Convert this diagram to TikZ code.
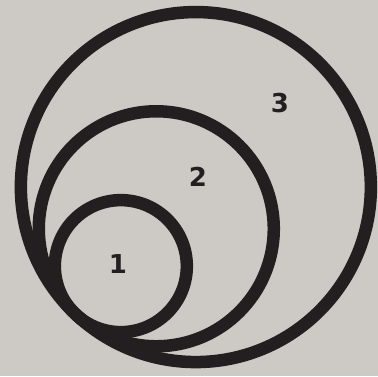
\documentclass[tikz,border=0pt]{standalone}
\usepackage{fontspec}
\setmainfont{DejaVu Sans}
\usepackage{xcolor}
\usepackage{tikz}
\usetikzlibrary{calc}
\definecolor{paper}{RGB}{205,201,197}
\definecolor{ink}{RGB}{35,31,32}

\begin{document}
\begin{tikzpicture}[x=1pt, y=1pt, every node/.style={font=\fontsize{26}{26}\selectfont\bfseries, text=ink}]

\fill[paper] (0,0) rectangle (378,376);
\useasboundingbox (0,0) rectangle (378,376);

% common touching point, lower left
\coordinate (touch) at (75.4,62);

\foreach \r in {175,117.5,66} {
  \draw[ink, line width=12.5pt] ($(touch)+(46.5:\r)$) circle[radius=\r pt];
}

\node (one) at (118,112) {1};
\node (two) at (198,199) {2};
\node (three) at (280,273) {3};

\end{tikzpicture}
\end{document}
